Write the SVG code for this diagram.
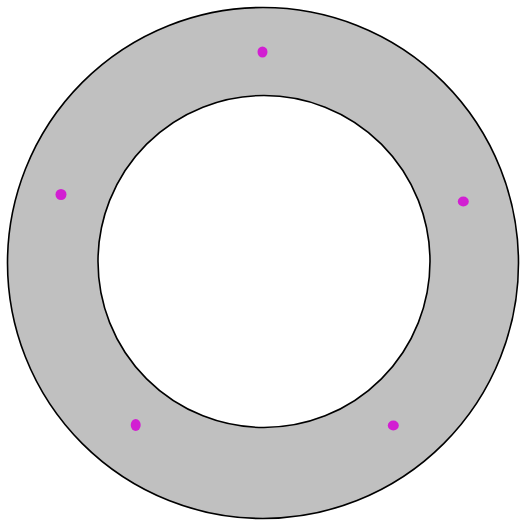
<svg xmlns="http://www.w3.org/2000/svg" width="520" height="525" viewBox="0 0 520 525">
<style>
.ring{stroke:#000;stroke-width:1.6}
.dot{fill:#d21fd2}
</style>
<rect width="520" height="525" fill="#fff"/>
<g id="ring">
<circle class="ring" cx="263" cy="263" r="255.5" fill="#c0c0c0"/>
<circle class="ring" cx="264" cy="261.5" r="166" fill="#fff"/>
</g>
<g id="dots">
<ellipse id="dot1" class="dot" cx="262.5" cy="52" rx="5" ry="5.5"/>
<ellipse id="dot2" class="dot" cx="61" cy="194.5" rx="5.5" ry="5.5"/>
<ellipse id="dot3" class="dot" cx="463.3" cy="201.5" rx="5.5" ry="5"/>
<ellipse id="dot4" class="dot" cx="135.7" cy="425" rx="5" ry="6"/>
<ellipse id="dot5" class="dot" cx="393.3" cy="425.5" rx="5.5" ry="5"/>
</g>
</svg>
